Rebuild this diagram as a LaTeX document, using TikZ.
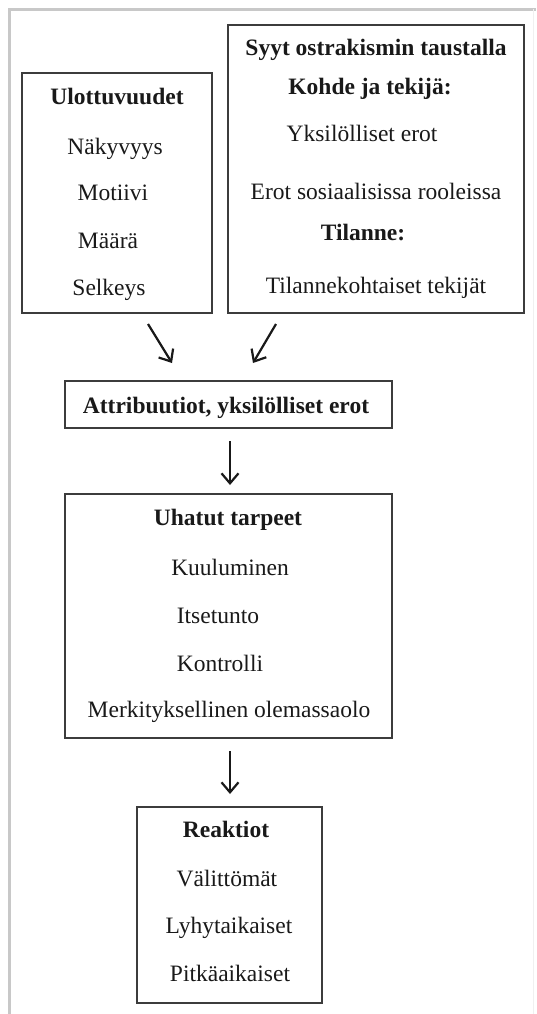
\documentclass[tikz,border=0pt]{standalone}
\usepackage{fontspec}
\setmainfont{Liberation Serif}
\usetikzlibrary{arrows.meta}
\definecolor{framegray}{RGB}{200,200,200}
\definecolor{boxline}{RGB}{60,60,60}
\definecolor{txt}{RGB}{25,25,25}
\tikzset{
  boxrect/.style={draw=boxline, line width=2pt, fill=none},
  lbl/.style={anchor=base, inner sep=0pt, text=txt, font=\fontsize{23.5}{28}\selectfont},
  blbl/.style={lbl, font=\fontsize{23.5}{28}\selectfont\bfseries},
  flow/.style={draw=black!90, line width=2.2pt, -{Straight Barb[length=10pt,width=17pt,line width=2.2pt]}},
}
\begin{document}
\begin{tikzpicture}[x=1pt,y=-1pt]
\useasboundingbox (0,0) rectangle (536,1014);
\fill[white] (0,0) rectangle (536,1014);
% outer frame
\draw[framegray, line width=3pt] (9,1014) -- (9,9.5) -- (536,9.5);
\draw[gray!12, line width=1pt] (533,9.5) -- (533,1014);
% boxes
\draw[boxrect] (22,73) rectangle (212,313);
\draw[boxrect] (228,25) rectangle (524,313);
\draw[boxrect] (65,381) rectangle (392,428);
\draw[boxrect] (65,494) rectangle (392,738);
\draw[boxrect] (137,807) rectangle (322,1003);
% box U texts
\node[blbl] (u0) at (117,105) {Ulottuvuudet};
\node[lbl] (u1) at (115,154) {Näkyvyys};
\node[lbl] (u2) at (113,200) {Motiivi};
\node[lbl] (u3) at (108,248) {Määrä};
\node[lbl] (u4) at (109,295) {Selkeys};
% box S texts
\node[blbl] (s0) at (376,56) {Syyt ostrakismin taustalla};
\node[blbl] (s1) at (370,95) {Kohde ja tekijä:};
\node[lbl] (s2) at (362,142) {Yksilölliset erot};
\node[lbl] (s3) at (376,199) {Erot sosiaalisissa rooleissa};
\node[blbl] (s4) at (363,240) {Tilanne:};
\node[lbl] (s5) at (376,293) {Tilannekohtaiset tekijät};
% box A
\node[blbl] (a0) at (226,413.5) {Attribuutiot, yksilölliset erot};
% box Uh
\node[blbl] (h0) at (228,525) {Uhatut tarpeet};
\node[lbl] (h1) at (230,575) {Kuuluminen};
\node[lbl] (h2) at (218,623) {Itsetunto};
\node[lbl] (h3) at (220,671) {Kontrolli};
\node[lbl] (h4) at (229,717) {Merkityksellinen olemassaolo};
% box R
\node[blbl] (r0) at (226,837) {Reaktiot};
\node[lbl] (r1) at (227,886) {Välittömät};
\node[lbl] (r2) at (229,933) {Lyhytaikaiset};
\node[lbl] (r3) at (230,981) {Pitkäaikaiset};
% arrows
\coordinate (p1s) at (148,324); \coordinate (p1e) at (172,363);
\coordinate (p2s) at (276,324); \coordinate (p2e) at (253,363);
\coordinate (p3s) at (230,441); \coordinate (p3e) at (230,485);
\coordinate (p4s) at (230,751); \coordinate (p4e) at (230,794);
\draw[flow] (p1s) -- (p1e);
\draw[flow] (p2s) -- (p2e);
\draw[flow] (p3s) -- (p3e);
\draw[flow] (p4s) -- (p4e);
\end{tikzpicture}
\end{document}
